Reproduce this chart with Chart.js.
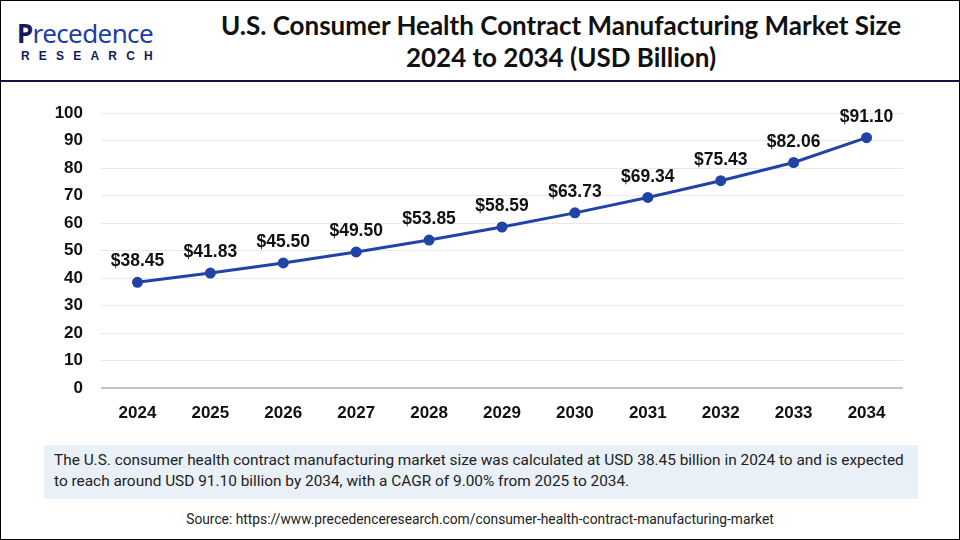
<!DOCTYPE html>
<html>
<head>
<meta charset="utf-8">
<script src="https://cdn.jsdelivr.net/npm/chart.js@4.4.1/dist/chart.umd.min.js"></script>
<style>
  html, body { margin: 0; padding: 0; background: #fff; }
  .frame {
    position: relative; width: 958px; height: 538px;
    border: 1px solid #000; overflow: hidden; background: #fff;
  }
  .logo { position: absolute; left: 16px; top: 17px; }
  .logo-top {
    font-family: "Noto Sans", sans-serif; font-size: 26px; line-height: 30px;
    color: #1d3f9e; letter-spacing: -0.6px;
  }
  .logo-top b { color: #141a5a; font-weight: 700; }
  .logo-bottom {
    font-family: "Liberation Sans", Arial, sans-serif; font-weight: 700;
    font-size: 12px; letter-spacing: 9.2px; color: #141a5a; margin-top: 1px; padding-left: 4px;
  }
  .title {
    position: absolute; left: 160px; width: 800px; top: 8px; text-align: center;
    font-family: Lato, "Open Sans", sans-serif; font-weight: 700; font-size: 26px;
    line-height: 32px; color: #111;
  }
  .rule { position: absolute; left: 0; top: 79px; width: 958px; height: 2px; background: #0f1547; }
  .chart-wrap { position: absolute; left: 0; top: 84px; width: 958px; height: 356px; }
  .note {
    position: absolute; left: 43px; top: 444px; width: 874px; height: 54px;
    background: #e9f0f8; box-sizing: border-box; padding: 5px 10px;
    font-family: Roboto, "Noto Sans", sans-serif; font-size: 15.4px; line-height: 21px; color: #222;
    white-space: nowrap;
  }
  .source {
    position: absolute; left: 0; width: 958px; top: 510px; text-align: center;
    font-family: Roboto, "Noto Sans", sans-serif; font-size: 13.8px; color: #222;
  }
</style>
</head>
<body>
<div class="frame">
  <div class="logo">
    <div class="logo-top"><b>P</b>recedence</div>
    <div class="logo-bottom">RESEARCH</div>
  </div>
  <div class="title">U.S. Consumer Health Contract Manufacturing Market Size<br>2024 to 2034 (USD Billion)</div>
  <div class="rule"></div>
  <div class="chart-wrap"><canvas id="chart"></canvas></div>
  <div class="note">The U.S. consumer health contract manufacturing market size was calculated at USD 38.45 billion in 2024 to and is expected<br>to reach around USD 91.10 billion by 2034, with a CAGR of 9.00% from 2025 to 2034.</div>
  <div class="source">Source: https://www.precedenceresearch.com/consumer-health-contract-manufacturing-market</div>
</div>
<script>
// values
const years  = ['2024', '2025', '2026', '2027', '2028', '2029', '2030', '2031', '2032', '2033', '2034'];
const market = [38.45, 41.83, 45.50, 49.50, 53.85, 58.59, 63.73, 69.34, 75.43, 82.06, 91.10];
const yTicks = [0, 10, 20, 30, 40, 50, 60, 70, 80, 90, 100];

const LINE = '#2044a6';
const AXIS_FONT = { family: '"Liberation Sans", Arial, sans-serif', weight: 'bold', size: 17 };

// "$xx.xx" above every point
const valueLabels = {
  id: 'valueLabels',
  afterDatasetsDraw(chart) {
    const { ctx } = chart;
    const meta = chart.getDatasetMeta(0);
    ctx.save();
    ctx.font = 'bold 17.5px "Liberation Sans", Arial, sans-serif';
    ctx.fillStyle = '#111';
    ctx.textAlign = 'center';
    ctx.textBaseline = 'bottom';
    meta.data.forEach((pt, i) => {
      ctx.fillText('$' + market[i].toFixed(2), pt.x, pt.y - 12);
    });
    ctx.restore();
  },
};

new Chart(document.getElementById('chart'), {
  type: 'line',
  data: {
    labels: years,
    datasets: [{
      data: market,
      borderColor: LINE,
      backgroundColor: LINE,
      borderWidth: 3,
      pointRadius: 4,
      pointHoverRadius: 4,
      tension: 0,
    }],
  },
  options: {
    responsive: true,
    maintainAspectRatio: false,
    animation: false,
    layout: { padding: { top: 16, right: 56, bottom: 0, left: 0 } },
    plugins: { legend: { display: false }, tooltip: { enabled: false } },
    scales: {
      x: {
        offset: true,
        grid: { display: false, drawTicks: false },
        border: { display: false },
        ticks: { color: '#111', font: AXIS_FONT, padding: 15 },
        afterFit: s => { s.height = 53; },
      },
      y: {
        min: 0,
        max: 100,
        afterBuildTicks: s => { s.ticks = yTicks.map(v => ({ value: v })); },
        grid: {
          drawTicks: false,
          color: ctx => ctx.tick && ctx.tick.value === 0 ? '#c4c4c4' : '#e8e8e8',
          lineWidth: ctx => ctx.tick && ctx.tick.value === 0 ? 2 : 1,
        },
        border: { display: false },
        ticks: { color: '#111', font: AXIS_FONT, padding: 18 },
        afterFit: s => { s.width = 100; },
      },
    },
  },
  plugins: [valueLabels],
});
</script>
</body>
</html>
